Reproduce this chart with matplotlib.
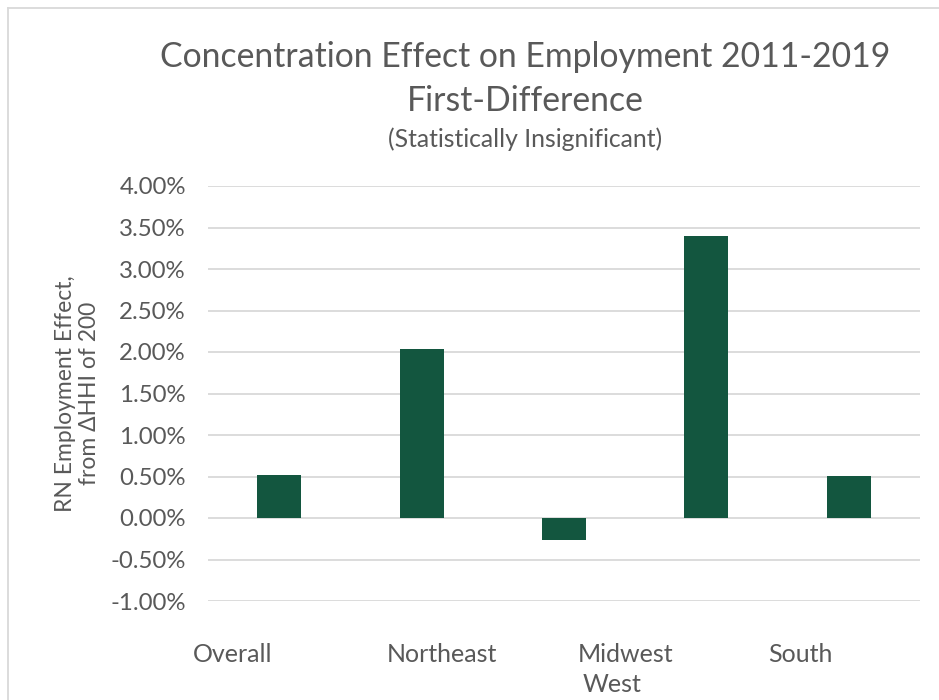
import matplotlib
matplotlib.use("Agg")
import matplotlib.pyplot as plt
from matplotlib.lines import Line2D
from matplotlib.ticker import FuncFormatter

categories = ["Overall", "Northeast", "Midwest", "West", "South"]
values = [0.52, 2.04, -0.26, 3.40, 0.51]  # percent
yticks = [-1.0, -0.5, 0.0, 0.5, 1.0, 1.5, 2.0, 2.5, 3.0, 3.5, 4.0]
# Category label positions as drawn in the reference (offset from bars)
label_pos = [-0.33, 1.14, 2.43, 3.66]
label_text = ["Overall", "Northeast", "Midwest", "South"]
second_row_pos = [2.34]
second_row_text = ["West"]

plt.rcParams['font.family'] = ['Lato', 'DejaVu Sans']
text_color = "#595959"
bar_color = "#13563F"
grid_color = "#D9D9D9"

fig = plt.figure(figsize=(9.39, 7.0), dpi=100)
ax = fig.add_axes([208/939, 1-601/700, (920-208)/939, (601-186)/700])

x = list(range(len(categories)))
ax.bar(x, values, width=0.31, color=bar_color, zorder=3)
ax.set_xlim(-0.5, len(categories) - 0.5)
ax.set_ylim(yticks[0], yticks[-1])
ax.set_yticks(yticks)
ax.yaxis.set_major_formatter(FuncFormatter(lambda v, p: f"{v:.2f}%"))
ax.grid(axis='y', color=grid_color, linewidth=1.3, zorder=0)
for s in ax.spines.values():
    s.set_visible(False)
ax.tick_params(axis='y', length=0, pad=16, labelsize=17.3, labelcolor=text_color)
ax.tick_params(axis='x', length=0, pad=30, labelsize=18, labelcolor=text_color)
ax.set_xticks(label_pos)
ax.set_xticklabels(label_text)
trans = ax.get_xaxis_transform()
for p, t in zip(second_row_pos, second_row_text):
    ax.text(p, -0.2, t, transform=trans, ha='center', va='center',
            fontsize=18, color=text_color)

ax.set_ylabel("RN Employment Effect,\nfrom \u0394HHI of 200", fontsize=16.5,
              color=text_color, linespacing=1.15)
ax.yaxis.set_label_coords(-0.152, 0.5)

fig.text(525/939, 1-57/700, "Concentration Effect on Employment 2011-2019",
         ha='center', va='center', fontsize=24.3, color=text_color)
fig.text(525/939, 1-101/700, "First-Difference",
         ha='center', va='center', fontsize=24.3, color=text_color)
fig.text(525/939, 1-139/700, "(Statistically Insignificant)",
         ha='center', va='center', fontsize=17.8, color=text_color)

# chart frame (partially visible)
fig.add_artist(Line2D([8/939, 1.0], [1-8/700, 1-8/700], color="#D9D9D9", lw=1.3,
                      transform=fig.transFigure))
fig.add_artist(Line2D([8/939, 8/939], [0.0, 1-8/700], color="#D9D9D9", lw=1.3,
                      transform=fig.transFigure))

fig.savefig("out.png", dpi=100)
